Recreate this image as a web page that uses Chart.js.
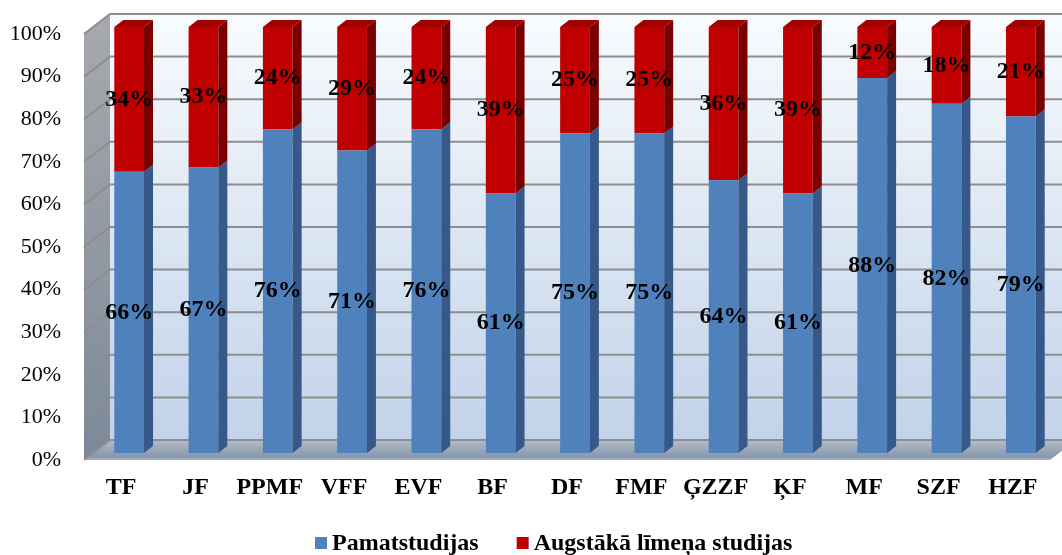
<!DOCTYPE html>
<html><head><meta charset="utf-8">
<script src="https://cdn.jsdelivr.net/npm/chart.js@4.4.1/dist/chart.umd.min.js"></script>
<style>html,body{margin:0;padding:0;background:#fff}#wrap{width:1062px;height:555px}</style>
</head><body><div id="wrap"><canvas id="c" width="1062" height="555"></canvas></div>
<script>
const categories = ['TF','JF','PPMF','VFF','EVF','BF','DF','FMF','ĢZZF','ĶF','MF','SZF','HZF'];
const pamatstudijas = [66,67,76,71,76,61,75,75,64,61,88,82,79];
const augstakaLimena = [34,33,24,29,24,39,25,25,36,39,12,18,21];
const seriesNames = ['Pamatstudijas','Augstākā līmeņa studijas'];
const yTickValues = [0,10,20,30,40,50,60,70,80,90,100];

const FONT = "'Liberation Serif','Times New Roman',serif";
const W = {fx:-8, fy:7, bx:18, by:-13};   // wall planes relative to bar plane
const BD = {dx:9, dy:-7};                  // bar depth

function poly(ctx, pts, fill){
  ctx.beginPath();
  ctx.moveTo(pts[0][0], pts[0][1]);
  for (let i=1;i<pts.length;i++) ctx.lineTo(pts[i][0], pts[i][1]);
  ctx.closePath();
  ctx.fillStyle = fill; ctx.fill();
}

const scene3d = {
  id:'scene3d',
  beforeDatasetsDraw(chart){
    const {ctx, chartArea:a, scales:{y}} = chart;
    const L=a.left, R=a.right, T=y.getPixelForValue(100), B=y.getPixelForValue(0);
    ctx.save();
    let g = ctx.createLinearGradient(0,T+W.by,0,B+W.by);
    g.addColorStop(0,'#F8FBFE'); g.addColorStop(0.5,'#DDE7F3'); g.addColorStop(1,'#C1D2EA');
    poly(ctx,[[L+W.bx,T+W.by],[R+W.bx+20,T+W.by],[R+W.bx+20,B+W.by],[L+W.bx,B+W.by]],g);
    g = ctx.createLinearGradient(0,T,0,B);
    g.addColorStop(0,'#A6A8AB'); g.addColorStop(1,'#7E8A99');
    poly(ctx,[[L+W.fx,T+W.fy],[L+W.bx,T+W.by],[L+W.bx,B+W.by],[L+W.fx,B+W.fy]],g);
    g = ctx.createLinearGradient(0,B+W.by,0,B+W.fy);
    g.addColorStop(0,'#B4BDC9'); g.addColorStop(0.85,'#8797AC'); g.addColorStop(1,'#A9B6C8');
    poly(ctx,[[L+W.fx,B+W.fy],[L+W.bx,B+W.by],[R+W.bx,B+W.by],[R+W.fx,B+W.fy]],g);
    ctx.strokeStyle = '#8E8E8E'; ctx.lineWidth = 2;
    yTickValues.forEach(v=>{
      const yy = y.getPixelForValue(v);
      ctx.beginPath();
      ctx.moveTo(L+W.fx, yy+W.fy);
      ctx.lineTo(L+W.bx, yy+W.by);
      ctx.lineTo(R+W.bx+20, yy+W.by);
      ctx.stroke();
    });
    ctx.restore();
  },
  afterDatasetsDraw(chart){
    const ctx = chart.ctx;
    const last = chart.data.datasets.length-1;
    ctx.save();
    chart.data.datasets.forEach((ds,di)=>{
      const meta = chart.getDatasetMeta(di);
      meta.data.forEach(bar=>{
        const p = bar.getProps(['x','y','base','width'], true);
        const x0 = p.x-p.width/2, x1 = p.x+p.width/2;
        poly(ctx,[[x1,p.y],[x1+BD.dx,p.y+BD.dy],[x1+BD.dx,p.base+BD.dy],[x1,p.base]], ds.sideColor);
        if (di===last) poly(ctx,[[x0,p.y],[x1,p.y],[x1+BD.dx,p.y+BD.dy],[x0+BD.dx,p.y+BD.dy]], ds.topColor);
      });
    });
    ctx.fillStyle = '#000';
    ctx.font = 'bold 24px '+FONT;
    ctx.textAlign = 'center'; ctx.textBaseline = 'middle';
    chart.data.datasets.forEach((ds,di)=>{
      const meta = chart.getDatasetMeta(di);
      meta.data.forEach((bar,i)=>{
        const p = bar.getProps(['x','y','base'], true);
        ctx.fillText(ds.data[i]+'%', p.x, (p.y+p.base)/2);
      });
    });
    // legend
    let lx = 315; const ly = 543;
    ctx.textAlign = 'left';
    chart.data.datasets.forEach(ds=>{
      ctx.fillStyle = ds.backgroundColor;
      ctx.fillRect(lx, ly-6, 12, 12);
      ctx.fillStyle = '#000';
      ctx.fillText(ds.label, lx+17, ly+1);
      lx += 17 + ctx.measureText(ds.label).width + 38;
    });
    ctx.restore();
  }
};

new Chart(document.getElementById('c'), {
  type:'bar',
  data:{
    labels: categories,
    datasets:[
      {label:seriesNames[0], data:pamatstudijas, backgroundColor:'#4F81BD', sideColor:'#36598A', topColor:'#6B93C8', borderWidth:0},
      {label:seriesNames[1], data:augstakaLimena, backgroundColor:'#C00000', sideColor:'#7A0000', topColor:'#A30000', borderWidth:0}
    ]
  },
  options:{
    responsive:false, animation:false, devicePixelRatio:1,
    layout:{padding:{top:27, right:4, left:0, bottom:0}},
    datasets:{bar:{categoryPercentage:0.4, barPercentage:1}},
    plugins:{legend:{display:false}, tooltip:{enabled:false}},
    scales:{
      x:{stacked:true, grid:{display:false}, border:{display:false},
        ticks:{color:'#000', font:{family:FONT, size:24, weight:'bold'}, labelOffset:-8, padding:12, maxRotation:0, autoSkip:false},
        afterFit(s){ s.height = 102; s.paddingLeft = 0; s.paddingRight = 0; }},
      y:{stacked:true, min:0, max:100, grid:{display:false, drawTicks:false}, border:{display:false},
        afterBuildTicks(s){ s.ticks = yTickValues.map(v=>({value:v})); },
        ticks:{color:'#000', font:{family:FONT, size:22}, labelOffset:7, padding:31, callback:v=>v+'%'},
        afterFit(s){ s.width = 92; s.paddingTop = 0; s.paddingBottom = 0; }}
    }
  },
  plugins:[scene3d]
});
</script></body></html>
